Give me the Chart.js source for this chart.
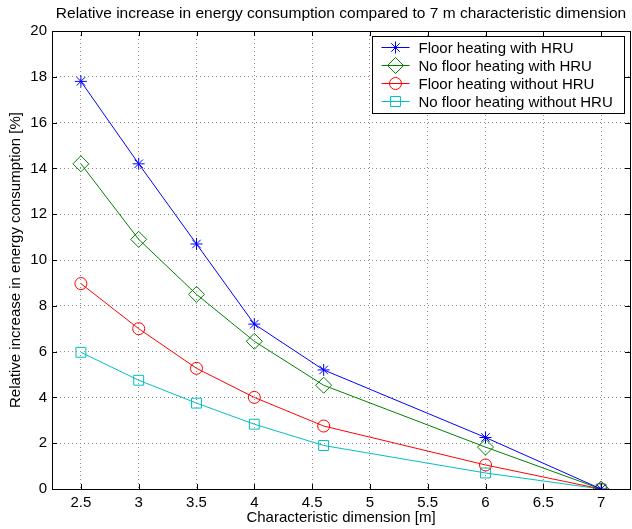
<!DOCTYPE html>
<html>
<head>
<meta charset="utf-8">
<script src="https://cdn.jsdelivr.net/npm/chart.js@4/dist/chart.umd.min.js"></script>
<style>
  html, body { margin: 0; padding: 0; background: #fff; }
  #wrap { width: 632px; height: 529px; }
</style>
</head>
<body>
<div id="wrap"><canvas id="energyChart" width="632" height="529"></canvas></div>
<script>
// characteristic dimension [m]
const dimensions = [2.5, 3, 3.5, 4, 4.6, 6, 7];

// relative increase [%] per case
const floorWithHru = [17.8, 14.2, 10.7, 7.2, 5.2, 2.25, 0];
const noFloorWithHru = [14.2, 10.9, 8.5, 6.45, 4.53, 1.83, 0];
const floorWithoutHru = [8.97, 7.0, 5.27, 4.0, 2.75, 1.05, 0];
const noFloorWithoutHru = [5.97, 4.75, 3.75, 2.83, 1.9, 0.7, 0];

const seriesLabels = [
    'Floor heating with HRU',
    'No floor heating with HRU',
    'Floor heating without HRU',
    'No floor heating without HRU'
];

const xTicks = [2.5, 3, 3.5, 4, 4.5, 5, 5.5, 6, 6.5, 7];
const yTicks = [0, 2, 4, 6, 8, 10, 12, 14, 16, 18, 20];

const chartTitle = 'Relative increase in energy consumption compared to 7 m characteristic dimension';

const FONT = 'Liberation Sans, Arial, Helvetica, sans-serif';

function toPoints(values) {
    return dimensions.map((d, i) => ({ x: d, y: values[i] }));
}

function makeSet(label, values, color, style, radius) {
    return {
        label: label,
        data: toPoints(values),
        borderColor: color,
        backgroundColor: color,
        borderWidth: 1,
        pointStyle: style,
        pointRadius: radius,
        pointHoverRadius: radius,
        pointBorderColor: color,
        pointBackgroundColor: 'rgba(0,0,0,0)',
        pointBorderWidth: 1,
        fill: false,
        tension: 0
    };
}

// box around the axes plus inward tick marks, matlab style; title centred over the axes
const boxPlugin = {
    id: 'boxPlugin',
    afterDraw(chart) {
        const ctx = chart.ctx;
        const area = chart.chartArea;
        const xs = chart.scales.x;
        const ys = chart.scales.y;
        const len = 5;
        ctx.save();
        ctx.strokeStyle = '#000';
        ctx.lineWidth = 1;
        ctx.beginPath();
        xTicks.forEach(v => {
            const px = Math.round(xs.getPixelForValue(v)) + 0.5;
            ctx.moveTo(px, area.bottom); ctx.lineTo(px, area.bottom - len);
            ctx.moveTo(px, area.top); ctx.lineTo(px, area.top + len);
        });
        yTicks.forEach(v => {
            const py = Math.round(ys.getPixelForValue(v)) + 0.5;
            ctx.moveTo(area.left, py); ctx.lineTo(area.left + len, py);
            ctx.moveTo(area.right, py); ctx.lineTo(area.right - len, py);
        });
        ctx.stroke();
        ctx.strokeRect(Math.round(area.left) + 0.5, Math.round(area.top) + 0.5,
            Math.round(area.right - area.left), Math.round(area.bottom - area.top));

        ctx.fillStyle = '#000';
        ctx.font = '15.5px ' + FONT;
        ctx.textAlign = 'center';
        ctx.textBaseline = 'middle';
        ctx.fillText(chartTitle, (area.left + area.right) / 2, 14);
        ctx.restore();
    }
};

// legend drawn inside the plot, top right
const legendPlugin = {
    id: 'legendPlugin',
    afterDraw(chart) {
        const ctx = chart.ctx;
        const area = chart.chartArea;
        const boxW = 252, boxH = 77;
        const left = Math.round(area.right) - 6 - boxW + 0.5;
        const top = Math.round(area.top) + 5 + 0.5;
        ctx.save();
        ctx.fillStyle = '#fff';
        ctx.fillRect(left, top, boxW, boxH);
        ctx.strokeStyle = '#000';
        ctx.lineWidth = 1;
        ctx.strokeRect(left, top, boxW, boxH);
        ctx.font = '15px ' + FONT;
        ctx.textBaseline = 'middle';
        chart.data.datasets.forEach((ds, i) => {
            const y = top + 11 + i * 18;
            ctx.strokeStyle = ds.borderColor;
            ctx.beginPath();
            ctx.moveTo(left + 9, y);
            ctx.lineTo(left + 37, y);
            ctx.stroke();
            if (Chart.helpers && Chart.helpers.drawPoint) {
                ctx.strokeStyle = ds.borderColor;
                ctx.fillStyle = 'rgba(0,0,0,0)';
                ctx.lineWidth = 1;
                Chart.helpers.drawPoint(ctx, {
                    pointStyle: ds.pointStyle,
                    radius: ds.pointRadius,
                    rotation: 0,
                    borderWidth: 1
                }, left + 23, y);
            }
            ctx.fillStyle = '#000';
            ctx.fillText(ds.label, left + 46, y + 1);
        });
        ctx.restore();
    }
};

const ctx = document.getElementById('energyChart').getContext('2d');
const chart = new Chart(ctx, {
    type: 'line',
    data: {
        datasets: [
            makeSet(seriesLabels[0], floorWithHru, '#0000ff', 'star', 6),
            makeSet(seriesLabels[1], noFloorWithHru, '#008000', 'rectRot', 8),
            makeSet(seriesLabels[2], floorWithoutHru, '#ff0000', 'circle', 6),
            makeSet(seriesLabels[3], noFloorWithoutHru, '#00bfbf', 'rect', 7)
        ]
    },
    options: {
        responsive: false,
        animation: false,
        devicePixelRatio: 1,
        layout: { autoPadding: false, padding: { left: 0, right: 2, top: 31, bottom: 0 } },
        plugins: {
            legend: { display: false },
            tooltip: { enabled: false },
            title: { display: false }
        },
        scales: {
            x: {
                type: 'linear',
                min: 2.25,
                max: 7.25,
                afterBuildTicks: (scale) => { scale.ticks = xTicks.map(v => ({ value: v })); },
                afterFit: (scale) => {
                    scale.height = 40;
                    scale.paddingLeft = 0;
                    scale.paddingRight = 0;
                },
                ticks: {
                    color: '#000',
                    font: { family: FONT, size: 15 },
                    padding: 5,
                    maxRotation: 0,
                    callback: (v) => String(v)
                },
                grid: { color: '#8c8c8c', drawTicks: false, lineWidth: 1 },
                border: { display: false, dash: [1, 3] },
                title: {
                    display: true,
                    text: 'Characteristic dimension [m]',
                    color: '#000',
                    font: { family: FONT, size: 15 },
                    padding: { top: 0, bottom: 2 }
                }
            },
            y: {
                type: 'linear',
                min: 0,
                max: 20,
                afterBuildTicks: (scale) => { scale.ticks = yTicks.map(v => ({ value: v })); },
                afterFit: (scale) => {
                    scale.width = 52;
                    scale.paddingTop = 0;
                    scale.paddingBottom = 0;
                },
                ticks: {
                    color: '#000',
                    font: { family: FONT, size: 15 },
                    padding: 5,
                    callback: (v) => String(v)
                },
                grid: { color: '#8c8c8c', drawTicks: false, lineWidth: 1 },
                border: { display: false, dash: [1, 3] },
                title: {
                    display: true,
                    text: 'Relative increase in energy consumption [%]',
                    color: '#000',
                    font: { family: FONT, size: 15 },
                    padding: { top: 7, bottom: 0 }
                }
            }
        }
    },
    plugins: [boxPlugin, legendPlugin]
});
</script>
</body>
</html>
